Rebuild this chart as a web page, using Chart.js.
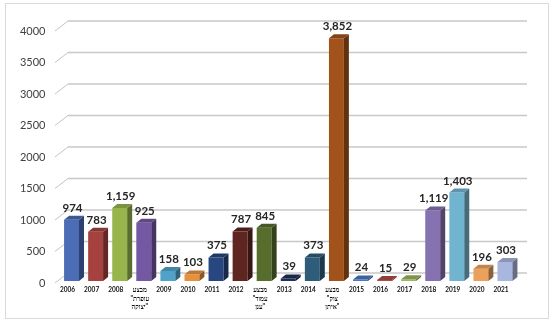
<!DOCTYPE html>
<html>
<head>
<meta charset="utf-8">
<script src="https://cdn.jsdelivr.net/npm/chart.js@4"></script>
<style>
  html, body { margin: 0; background: #fff; }
  #wrap { width: 555px; height: 325px; }
</style>
</head>
<body>
<div id="wrap"><canvas id="chart" dir="ltr"></canvas></div>
<script>
// rockets and mortars fired per year / operation
// keep quotes on the left/right of the wrapped Hebrew lines
const ltr = s => '\u202A\u200E' + s + '\u200E\u202C';
const periods = [
    '2006', '2007', '2008', ['מבצע', ltr('"עופרת'), ltr('יצוקה"')], '2009', '2010', '2011', '2012',
    ['מבצע', ltr('"עמוד'), ltr('ענן"')], '2013', '2014', ['מבצע', ltr('"צוק'), ltr('איתן"')],
    '2015', '2016', '2017', '2018', '2019', '2020', '2021'
];
const launches = [974, 783, 1159, 925, 158, 103, 375, 787, 845, 39, 373, 3852, 24, 15, 29, 1119, 1403, 196, 303];
const yMax = 4000;
const yStep = 500;

const barColors = [
    '#4a6db5', '#a5423f', '#98b54c', '#7458a3', '#4fa3c9', '#e8913d', '#28467f', '#5f2521',
    '#566d2b', '#1f3059', '#2f5d79', '#a2531b', '#4a76c2', '#b04b47', '#9bb65c', '#8671b1',
    '#71b4d0', '#eba15c', '#a9b6dd'
];

const DX = 5, DY = 4;

function shade(hex, f) {
    let n = parseInt(hex.slice(1), 16);
    let c = [n >> 16, (n >> 8) & 255, n & 255].map(v => {
        v = f < 1 ? v * f : v + (255 - v) * (f - 1);
        return Math.round(Math.max(0, Math.min(255, v)));
    });
    return 'rgb(' + c.join(',') + ')';
}

const bars3d = {
    id: 'bars3d',
    beforeDraw(chart) {
        const ctx = chart.ctx;
        ctx.save();
        ctx.fillStyle = '#fff';
        ctx.fillRect(0, 0, chart.width, chart.height);
        ctx.strokeStyle = '#d9d9d9';
        ctx.lineWidth = 1;
        ctx.strokeRect(5.5, 3.5, 543, 315);
        ctx.restore();
    },
    beforeDatasetsDraw(chart) {
        const ctx = chart.ctx, ca = chart.chartArea, y = chart.scales.y;
        ctx.save();
        for (let v = 0; v <= yMax; v += yStep) {
            const py = y.getPixelForValue(v);
            ctx.strokeStyle = '#c4c4c4';
            ctx.lineWidth = 1;
            ctx.beginPath();
            ctx.moveTo(ca.left - 4.5, py + 2);
            ctx.lineTo(ca.left + 8.5, py - 8);
            ctx.stroke();
            ctx.lineWidth = 1.5;
            ctx.strokeStyle = '#c8c8c8';
            ctx.beginPath();
            ctx.moveTo(ca.left + 8.5, py - 8);
            ctx.lineTo(ca.right + 10, py - 8);
            ctx.stroke();
        }
        ctx.restore();
    },
    afterDatasetsDraw(chart) {
        const ctx = chart.ctx;
        const meta = chart.getDatasetMeta(0);
        ctx.save();
        meta.data.forEach((bar, i) => {
            const col = barColors[i];
            const half = bar.width / 2;
            const l = bar.x - half, r = bar.x + half, t = bar.y, b = bar.base;
            // side face
            ctx.fillStyle = shade(col, 0.6);
            ctx.beginPath();
            ctx.moveTo(r, t);
            ctx.lineTo(r + DX, t - DY);
            ctx.lineTo(r + DX, b - DY);
            ctx.lineTo(r, b);
            ctx.closePath();
            ctx.fill();
            // top face
            ctx.fillStyle = shade(col, 0.82);
            ctx.beginPath();
            ctx.moveTo(l, t);
            ctx.lineTo(l + DX, t - DY);
            ctx.lineTo(r + DX, t - DY);
            ctx.lineTo(r, t);
            ctx.closePath();
            ctx.fill();
            // value label
            ctx.fillStyle = '#262626';
            ctx.font = 'bold 11.5px Lato';
            ctx.textAlign = 'center';
            ctx.textBaseline = 'bottom';
            ctx.fillText(launches[i].toLocaleString('en-US'), bar.x + 1, t - DY - 2);
        });
        ctx.restore();
    }
};

new Chart(document.getElementById('chart'), {
    type: 'bar',
    data: {
        labels: periods,
        datasets: [{
            data: launches,
            backgroundColor: barColors,
            borderWidth: 0,
            barPercentage: 0.62,
            categoryPercentage: 1
        }]
    },
    options: {
        responsive: true,
        maintainAspectRatio: false,
        animation: false,
        layout: { padding: { top: 29, left: 5, right: 38, bottom: 7 } },
        plugins: { legend: { display: false }, tooltip: { enabled: false } },
        scales: {
            x: {
                grid: { display: false, drawTicks: false },
                border: { display: false },
                ticks: {
                    autoSkip: false,
                    maxRotation: 0,
                    padding: 5,
                    labelOffset: -4,
                    color: '#111',
                    font: { family: 'Lato', size: 6.5, weight: 'bold', lineHeight: 1.3 }
                },
                afterFit: s => { s.height = 37; }
            },
            y: {
                min: 0,
                max: yMax,
                grid: { display: false, drawTicks: false },
                border: { display: false },
                ticks: {
                    stepSize: yStep,
                    padding: 14,
                    labelOffset: 2,
                    color: '#404040',
                    font: { family: 'Lato', size: 11 },
                    callback: v => String(v)
                },
                afterFit: s => { s.width = 54.5; }
            }
        }
    },
    plugins: [bars3d]
});
</script>
</body>
</html>
